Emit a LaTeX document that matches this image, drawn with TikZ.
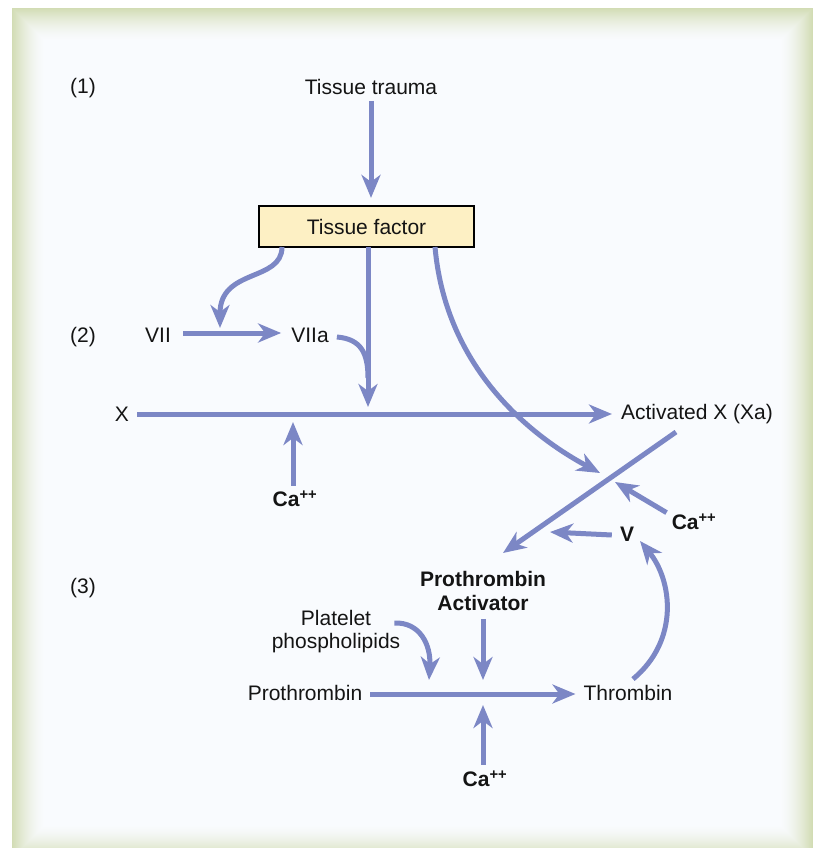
\documentclass[tikz,border=0pt]{standalone}
\usepackage{fontspec}
\setmainfont{Liberation Sans}
\usetikzlibrary{arrows.meta}
\definecolor{arr}{RGB}{124,135,197}
\definecolor{framegreen}{RGB}{210,220,180}
\definecolor{panelbg}{RGB}{249,251,254}
\definecolor{tfill}{RGB}{253,240,196}
\definecolor{ink}{RGB}{20,20,20}
\tikzset{
  flow/.style={draw=arr, line width=5pt, -{Stealth[length=23pt,width=19pt,inset=7pt]}},
  plainline/.style={draw=arr, line width=5pt},
  lbl/.style={inner sep=0pt, text=ink, font=\fontsize{21}{24}\selectfont},
  blbl/.style={inner sep=0pt, text=ink, font=\fontsize{21}{24}\selectfont\bfseries},
  tfbox/.style={draw=black, line width=2.2pt, fill=tfill, minimum width=215pt, minimum height=41pt, inner sep=0pt, text=ink, font=\fontsize{21}{24}\selectfont},
}
\begin{document}
\begin{tikzpicture}[x=1pt,y=-1pt]
\useasboundingbox (0,0) rectangle (818,848);
\fill[white] (0,0) rectangle (818,848);
\begin{scope}
\clip (0,0) rectangle (818,848);
\foreach \i in {0,...,32}{
  \pgfmathsetmacro\p{100*(1-\i/33)^1.6}
  \fill[framegreen!\p!panelbg] (12+\i,8+\i) rectangle (813-\i,858-\i);
}
\fill[panelbg] (45,41) rectangle (780,825);
\end{scope}

% labels
\node[lbl] (n1) at (83,88) {(1)};
\node[lbl] (n2) at (83,337) {(2)};
\node[lbl] (n3) at (83,588) {(3)};
\node[lbl] (trauma) at (371,87) {Tissue trauma};
\node[tfbox] (tf) at (366.5,226.5) {\raisebox{-1.5pt}{Tissue factor}};
\node[lbl] (vii) at (158,335) {VII};
\node[lbl] (viia) at (310,335) {VIIa};
\node[lbl] (x) at (122,414) {X};
\node[lbl] (xa) at (697,414) {Activated X (Xa)};
\node[blbl] (ca1) at (295,499) {Ca\textsuperscript{++}};
\node[blbl] (ca2) at (694,522) {Ca\textsuperscript{++}};
\node[blbl] (v) at (627,534) {V};
\node[blbl, align=center] (pa) at (483,591) {Prothrombin\\Activator};
\node[lbl, align=center, font=\fontsize{21}{23}\selectfont] (pl) at (336,632) {Platelet\\phospholipids};
\node[lbl] (pro) at (305,693) {Prothrombin};
\node[lbl] (thr) at (628,693) {Thrombin};
\node[blbl] (ca3) at (485,779) {Ca\textsuperscript{++}};

% coordinates
\coordinate (tfA) at (282,247);
\coordinate (tfB) at (368,247);
\coordinate (tfC) at (435,247);
\coordinate (j7) at (220,328);
\coordinate (jx) at (368,407);
\coordinate (j10) at (368,378);
\coordinate (ca1t) at (293,422);
\coordinate (xaS) at (676,432);
\coordinate (paT) at (503,553);
\coordinate (jv) at (600,473);
\coordinate (ca2t) at (615,482);
\coordinate (vT) at (550,532);
\coordinate (vB) at (640,541);
\coordinate (plT) at (429,680);
\coordinate (paB) at (483,680);
\coordinate (ca3t) at (483,705);

% connectors
\draw[flow] (trauma.south) ++(0,6) -- ([yshift=7pt]trauma.south |- tf.north);
\draw[flow] (tfA) .. controls (282,282) and (220,268) .. (j7);
\draw[flow] ([xshift=12pt]vii.east |- 0,333) -- ([xshift=-10pt]viia.west |- 0,333);
\draw[flow] (tfB) -- (jx);
\draw[plainline] ([xshift=8pt,yshift=-2pt]viia.east) .. controls (361,339) and (368,353) .. (j10);
\draw[flow] ([xshift=8pt]x.east) -- ([xshift=-9pt]xa.west);
\draw[flow] ([yshift=5pt]ca1.north -| ca1t) -- (ca1t);
\draw[flow] (tfC) .. controls (445,360) and (520,430) .. (jv);
\draw[flow] (xaS) -- (paT);
\draw[flow] ([xshift=-5pt,yshift=1pt]ca2.north west) -- (ca2t);
\draw[flow] ([xshift=-8pt,yshift=-1pt]v.west) -- (vT);
\draw[flow] ([xshift=5pt,yshift=6pt]thr.north) .. controls (680,640) and (672,580) .. (vB);
\draw[flow] ([yshift=-8pt]pa.south) -- (paB);
\draw[flow] ([xshift=-6pt]pl.north east |- 0,623) .. controls (420,622) and (431,645) .. (plT);
\draw[flow] ([xshift=8pt,yshift=-1pt]pro.east) -- ([xshift=-8pt,yshift=-1pt]thr.west);
\draw[flow] ([yshift=6pt]ca3.north -| ca3t) -- (ca3t);
\end{tikzpicture}
\end{document}
